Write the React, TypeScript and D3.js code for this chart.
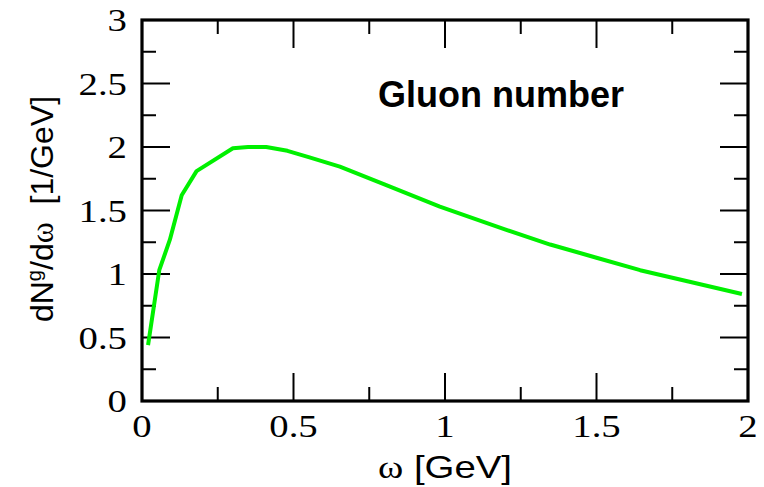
import React from "react";
import * as d3 from "d3";

// spectrum
const omega = [0.02, 0.057, 0.092, 0.131, 0.18, 0.3, 0.35, 0.41, 0.48, 0.55, 0.653, 0.8, 0.983, 1.2, 1.347, 1.5, 1.644, 1.8, 1.98];
const dNdw = [0.44, 1.03, 1.27, 1.62, 1.81, 1.99, 2.0, 2.0, 1.97, 1.92, 1.845, 1.705, 1.53, 1.349, 1.232, 1.128, 1.03, 0.943, 0.843];

const xMajor = [0, 0.5, 1, 1.5, 2];
const xMinor = [0.25, 0.75, 1.25, 1.75];
const yMajor = [0, 0.5, 1, 1.5, 2, 2.5, 3];
const yMinor = [0.25, 0.75, 1.25, 1.75, 2.25, 2.75];
const xTickLabels = ["0", "0.5", "1", "1.5", "2"];
const yTickLabels = ["0", "0.5", "1", "1.5", "2", "2.5", "3"];

const W = 764;
const H = 487;
const left = 142, right = 748, top = 20, bottom = 401;

export default function App() {
    const x = d3.scaleLinear().domain([0, 2]).range([left, right]);
    const y = d3.scaleLinear().domain([0, 3]).range([bottom, top]);

    const pts = omega.map((w, i) => [w, dNdw[i]] as [number, number]);
    const line = d3.line<[number, number]>().x(d => x(d[0])).y(d => y(d[1]));

    const major = 28, minor = 14;
    const serif = "'Liberation Serif', 'Times New Roman', serif";
    const sans = "'Liberation Sans', Arial, sans-serif";

    return (
        <svg width={W} height={H} style={{ position: "absolute", left: 0, top: 0, background: "#fff" }}>
            <rect x={0} y={0} width={W} height={H} fill="#fff" />

            {/* ticks on all four sides, pointing in */}
            <g stroke="#000" strokeWidth={2}>
                {xMajor.map(v => (
                    <g key={"xM" + v}>
                        <line x1={x(v)} x2={x(v)} y1={bottom} y2={bottom - major} />
                        <line x1={x(v)} x2={x(v)} y1={top} y2={top + major} />
                    </g>
                ))}
                {xMinor.map(v => (
                    <g key={"xm" + v}>
                        <line x1={x(v)} x2={x(v)} y1={bottom} y2={bottom - minor} />
                        <line x1={x(v)} x2={x(v)} y1={top} y2={top + minor} />
                    </g>
                ))}
                {yMajor.map(v => (
                    <g key={"yM" + v}>
                        <line x1={left} x2={left + major} y1={y(v)} y2={y(v)} />
                        <line x1={right} x2={right - major} y1={y(v)} y2={y(v)} />
                    </g>
                ))}
                {yMinor.map(v => (
                    <g key={"ym" + v}>
                        <line x1={left} x2={left + minor} y1={y(v)} y2={y(v)} />
                        <line x1={right} x2={right - minor} y1={y(v)} y2={y(v)} />
                    </g>
                ))}
            </g>

            <path d={line(pts) || ""} fill="none" stroke="#00f000" strokeWidth={4} strokeLinejoin="round" />

            <rect x={left} y={top} width={right - left} height={bottom - top} fill="none" stroke="#000" strokeWidth={3.2} />

            {/* tick labels */}
            {xMajor.map((v, i) => (
                <text key={"xl" + v} transform={`translate(${x(v)},${437}) scale(1.25,1)`}
                    textAnchor="middle" fontFamily={serif} fontSize={31} fill="#000">
                    {xTickLabels[i]}
                </text>
            ))}
            {yMajor.map((v, i) => (
                <text key={"yl" + v} transform={`translate(${127},${y(v) + 11}) scale(1.25,1)`}
                    textAnchor="end" fontFamily={serif} fontSize={31} fill="#000">
                    {yTickLabels[i]}
                </text>
            ))}

            {/* axis titles */}
            <text transform={`translate(445,478) scale(1.2,1)`} textAnchor="middle" fontFamily={sans} fontSize={32} fill="#000">
                <tspan fontFamily={serif}>ω</tspan> [GeV]
            </text>
            <text transform={`translate(53,209) rotate(-90)`} textAnchor="middle" fontFamily={sans} fontSize={32} fill="#000">
                dN<tspan dy={-12} fontSize={20}>g</tspan><tspan dy={12}>/d</tspan><tspan fontFamily={serif}>ω</tspan>{"\u00a0\u00a0"}[1/GeV]
            </text>

            <text x={378} y={107} fontFamily={sans} fontWeight="bold" fontSize={36} fill="#000">Gluon number</text>
        </svg>
    );
}
